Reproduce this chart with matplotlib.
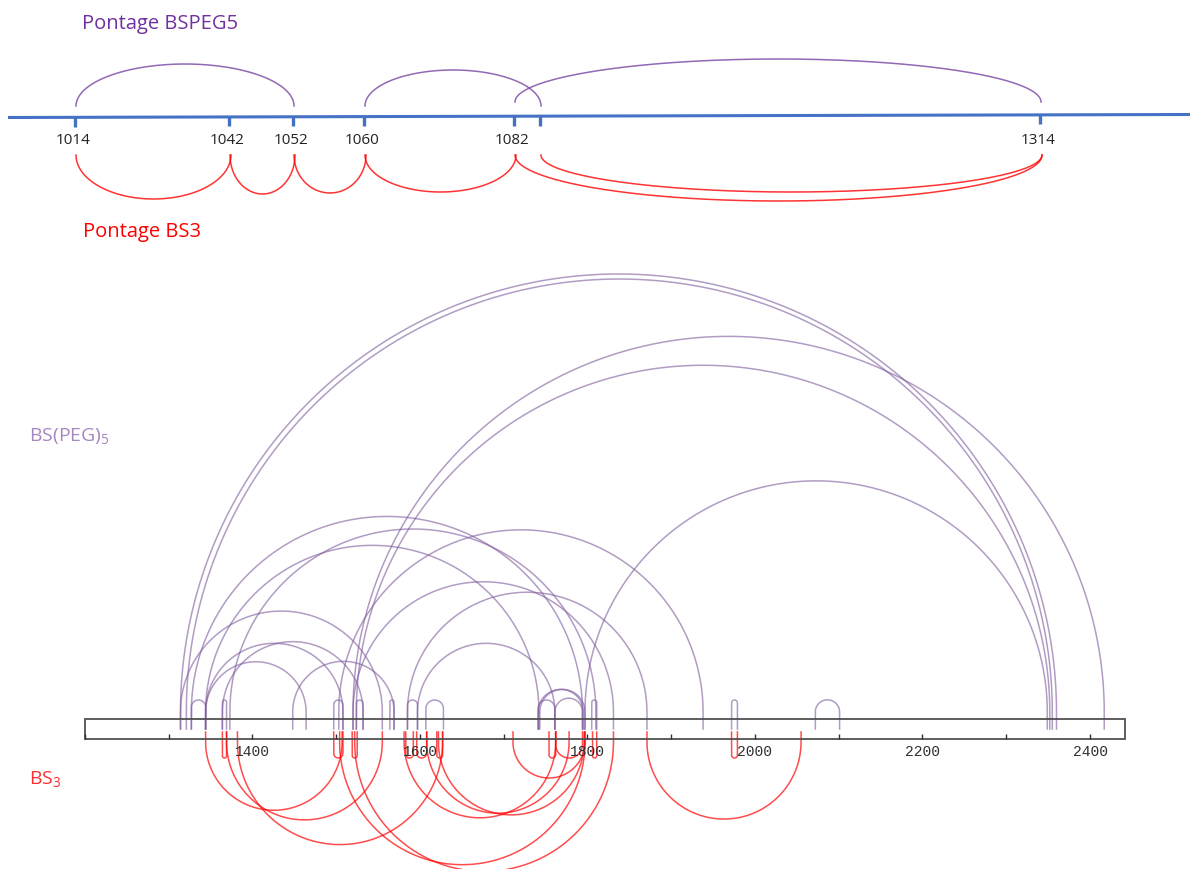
import numpy as np
import matplotlib
matplotlib.use('Agg')
import matplotlib.pyplot as plt
from matplotlib.patches import Rectangle

# ---------------- data ----------------
# top schematic: cross-linked lysines
site_labels = ['1014', '1042', '1052', '1060', '1082', '', '1314']
peg_top_links = [(0, 2), (3, 5), (4, 6)]
bs3_top_links = [(0, 1), (1, 2), (2, 3), (3, 4), (4, 6), (5, 6)]

# bottom linear map (residue numbers)
seq_start, seq_end = 1200, 2442
axis_ticks = list(range(1200, 2401, 100))
tick_labels = [1400, 1600, 1800, 2000, 2200, 2400]

peg_links = [
    (1314, 2360), (1321, 2355), (1520, 2417), (1524, 2352), (1797, 2349),
    (1327, 1794), (1373, 1810), (1344, 1742), (1503, 1938), (1314, 1555),
    (1364, 1532), (1344, 1508), (1344, 1464), (1448, 1569), (1520, 1831),
    (1597, 1761), (1741, 1761), (1761, 1794), (1741, 1795), (1743, 1797),
    (1805, 1811), (1327, 1344), (1364, 1369), (1497, 1508), (1524, 1532),
    (1564, 1569), (1585, 1597), (1607, 1628), (1972, 1979), (2072, 2101),
    (1585, 1871),
]
bs3_links = [
    (1344, 1507), (1364, 1369), (1369, 1555), (1382, 1627), (1497, 1508),
    (1519, 1525), (1504, 1797), (1522, 1831), (1581, 1762), (1622, 1796),
    (1583, 1592), (1596, 1608), (1711, 1797), (1754, 1762), (1762, 1794),
    (1608, 1778), (1806, 1811), (1871, 2055), (1972, 1979), (1620, 1627),
]

# ---------------- layout ----------------
W, H = 1190, 870
site_x = [75, 229, 293, 364, 514, 540, 1040]
peg_top_h = [42, 36, 43]
peg_top_base = [107, 107, 103]
bs3_top_d = [44, 39, 38, 37, 46, 37]

px_per_res = 0.8375          # bottom map scale
x_1400, y_axis = 252.5, 730  # pixel anchor of the bottom map

blue = '#4472C4'
purple_top = '#7F4FA8'
purple = '#7E5A9C'
red = '#FF0000'

fig = plt.figure(figsize=(W / 100, H / 100), dpi=100)
ax = fig.add_axes([0, 0, 1, 1])
ax.set_xlim(0, W)
ax.set_ylim(H, 0)
ax.axis('off')

# ---- top schematic ----
ax.plot([8, W], [118.5, 115.5], color=blue, lw=2.2, solid_capstyle='butt')
for x, lab in zip(site_x, site_labels):
    yl = 118.5 - 3.0 * (x - 8) / (W - 8)
    ax.plot([x, x], [yl, yl + 9.5], color=blue, lw=2.4, solid_capstyle='butt')
    if lab:
        ax.text(x - 2, 141, lab, ha='center', va='center', fontsize=11,
                family='Open Sans', color='#222222')

t = np.linspace(np.pi, 0, 200)
for (i, j), h, base in zip(peg_top_links, peg_top_h, peg_top_base):
    a, b = site_x[i] + 1, site_x[j] + 1
    cx, rx = (a + b) / 2, (b - a) / 2
    ax.plot(cx + rx * np.cos(t), base - h * np.sin(t), color=purple_top, lw=1.1, alpha=0.85)
for (i, j), d in zip(bs3_top_links, bs3_top_d):
    a, b = site_x[i] + 1, site_x[j] + 2
    cx, rx = (a + b) / 2, (b - a) / 2
    ax.plot(cx + rx * np.cos(t), 156 + d * np.sin(t), color=red, lw=1.1, alpha=0.8)

ax.text(82, 24, 'Pontage BSPEG5', ha='left', va='center', fontsize=14.5,
        family='Open Sans', color='#7030A0')
ax.text(83, 232, 'Pontage BS3', ha='left', va='center', fontsize=14.5,
        family='Open Sans', color='#FF0000')
ax.text(29, 437, 'BS(PEG)$_\\mathregular{5}$', ha='left', va='center', fontsize=14,
        family='Open Sans', color='#A688C0')
ax.text(29, 780, 'BS$_\\mathregular{3}$', ha='left', va='center', fontsize=14,
        family='Open Sans', color='#FF3030')

# ---- bottom linear map, in residue units (equal aspect) ----
bx = fig.add_axes([0, 0, 1, 1])
bx.patch.set_alpha(0)
bx.axis('off')
bx.set_xlim(1400 - x_1400 / px_per_res, 1400 + (W - x_1400) / px_per_res)
bx.set_ylim((y_axis - H) / px_per_res, y_axis / px_per_res)

half_bar = 10 / px_per_res
bx.add_patch(Rectangle((seq_start, -half_bar), seq_end - seq_start, 2 * half_bar,
                       fill=False, edgecolor='#505050', lw=1.3, zorder=3))
bx.vlines(axis_ticks, -half_bar, -half_bar + 5 / px_per_res, color='#303030', lw=1.0, zorder=3)
for v in tick_labels:
    bx.text(v, -26.5, str(v), ha='center', va='center', fontsize=10.5,
            family='Liberation Mono', color='#303030')

stem_up, min_up = 17 / px_per_res, 29 / px_per_res
stem_dn, min_dn = 13 / px_per_res, 29 / px_per_res
red_base = -3 / px_per_res
tt = np.linspace(np.pi, 0, 300)

for a, b in peg_links:
    r, cx = (b - a) / 2, (a + b) / 2
    cy = max(stem_up, min_up - r)
    xs = np.concatenate([[a], cx + r * np.cos(tt), [b]])
    ys = np.concatenate([[0], cy + r * np.sin(tt), [0]])
    bx.plot(xs, ys, color=purple, lw=1.1, alpha=0.6, zorder=2)

for a, b in bs3_links:
    r, cx = (b - a) / 2, (a + b) / 2
    cy = max(stem_dn, min_dn - r)
    xs = np.concatenate([[a], cx + r * np.cos(tt), [b]])
    ys = np.concatenate([[red_base], -cy - r * np.sin(tt), [red_base]])
    bx.plot(xs, ys, color=red, lw=1.1, alpha=0.7, zorder=2)

fig.savefig('out.png', dpi=100)
